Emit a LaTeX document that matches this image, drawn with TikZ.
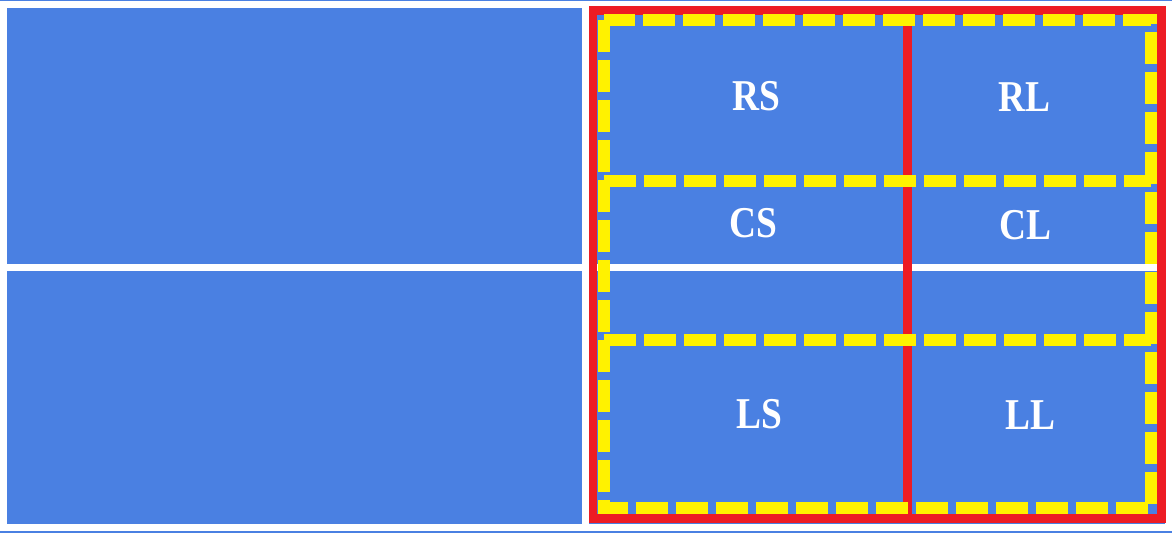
\documentclass[tikz,border=0pt]{standalone}
\usepackage{fontspec}
\newfontfamily\cellfont{Liberation Serif}[FakeStretch=0.85]
\definecolor{bayBlue}{HTML}{4A80E2}
\definecolor{zoneRed}{HTML}{ED1C24}
\definecolor{laneYellow}{HTML}{FFF200}
\tikzset{
  gridline/.style={draw=white, line width=7pt},
  zone/.style={draw=zoneRed, line width=8.5pt},
  lane/.style={draw=laneYellow, line width=12pt, dash pattern=on 32pt off 8pt},
  celltext/.style={
    text=white, anchor=base, inner sep=0pt,
    font=\cellfont\bfseries\fontsize{44}{44}\selectfont
  },
}

\begin{document}
\begin{tikzpicture}[x=1pt, y=-1pt]
    \useasboundingbox (0,0) rectangle (1172,533);
    \fill[bayBlue] (0,0) rectangle (1172,533);

    % white table lines
    \draw[gridline] (3.5,4) rectangle (1168,527.5);
    \draw[gridline] (585,4) -- (585,527.5);
    \draw[gridline] (3.5,267) -- (1168,267);

    % red zone
    \draw[zone] (593,10.5) rectangle (1161.5,518.5);
    \draw[zone] (907.5,10.5) -- (907.5,518.5);

    % yellow lanes
    \draw[lane] (603.5,20) rectangle (1151,508);
    \draw[lane] (603.5,180.5) -- (1151,180.5);
    \draw[lane] (603.5,339.5) -- (1151,339.5);

    \node[celltext] (rs) at (756,110) {RS};
    \node[celltext] (rl) at (1024,111) {RL};
    \node[celltext] (cs) at (753,237) {CS};
    \node[celltext] (cl) at (1025,239) {CL};
    \node[celltext] (ls) at (759,428) {LS};
    \node[celltext] (ll) at (1030,429) {LL};
  \end{tikzpicture}
\end{document}
